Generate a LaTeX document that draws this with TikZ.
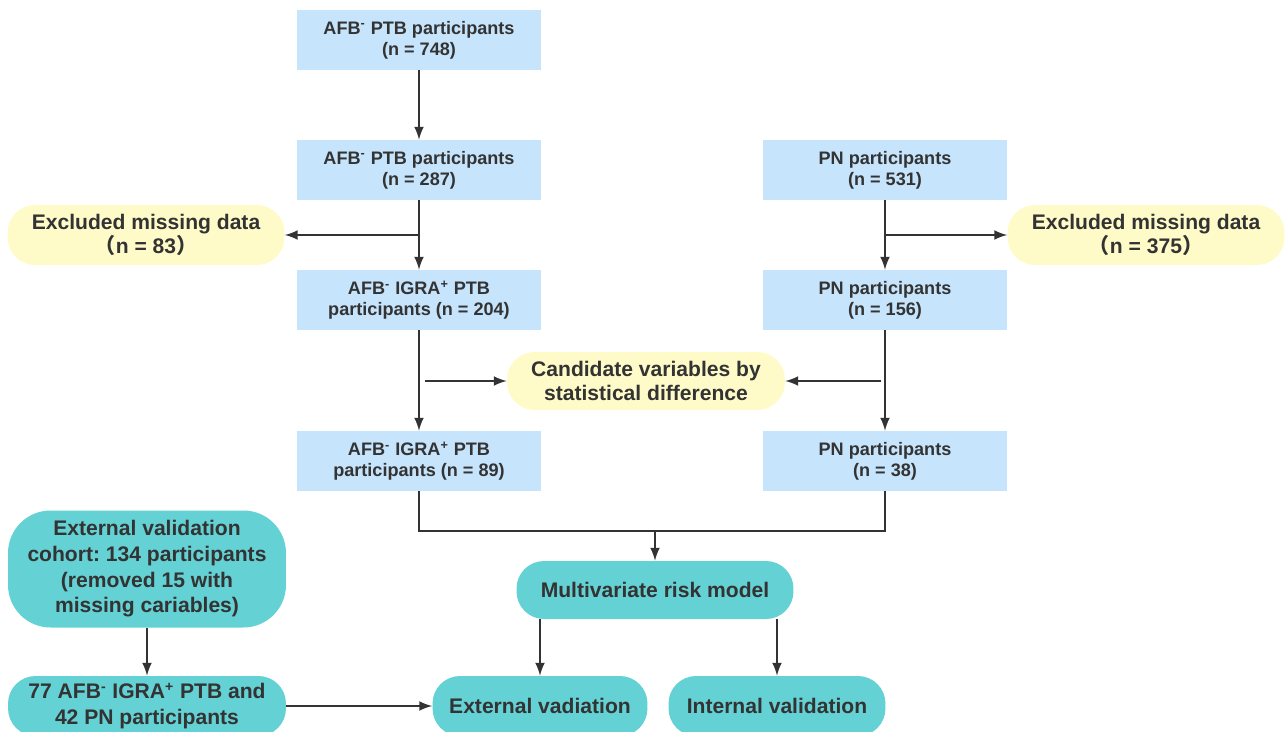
\documentclass[tikz,border=0pt]{standalone}
\usepackage{fontspec}
\setmainfont{Liberation Sans}
\newfontfamily\cjk{Noto Sans CJK SC}
\usepackage{tikz}
\usetikzlibrary{arrows}
\definecolor{boxblue}{HTML}{C6E4FB}
\definecolor{boxyellow}{HTML}{FEFBC9}
\definecolor{boxteal}{HTML}{64D1D4}
\definecolor{ink}{HTML}{333333}
\frenchspacing

\begin{document}
\begin{tikzpicture}[x=0.02cm, y=-0.02cm]
		\tikzstyle{every node} = [align=center, text=ink, inner sep=2pt]
		\tikzstyle{pbox} = [fill=boxblue, minimum width=4.88cm, minimum height=1.2cm, font=\fontsize{10.3}{12}\selectfont\bfseries]
		\tikzstyle{ybox} = [fill=boxyellow, rounded corners=0.55cm, minimum width=5.54cm, minimum height=1.2cm, font=\fontsize{12}{13.6}\selectfont\bfseries]
		\tikzstyle{tbox} = [fill=boxteal, rounded corners=0.55cm, minimum height=1.2cm, font=\fontsize{12}{14.6}\selectfont\bfseries]
		\tikzstyle{link} = [->, >=latex, line width=1.5pt, draw=ink]
		\useasboundingbox (0,0) rectangle (1285,731);
		\clip (0,0) rectangle (1285,731);
		% left column
		\node[pbox] (b1) at (419, 40) {AFB\textsuperscript{-} PTB participants\\(n = 748)};
		\node[pbox] (b2) at (419, 170) {AFB\textsuperscript{-} PTB participants\\(n = 287)};
		\node[pbox] (b3) at (419, 300) {AFB\textsuperscript{-} IGRA\textsuperscript{+} PTB\\participants (n = 204)};
		\node[pbox] (b4) at (419, 461) {AFB\textsuperscript{-} IGRA\textsuperscript{+} PTB\\participants (n = 89)};
		% right column
		\node[pbox] (p1) at (885, 170) {PN participants\\(n = 531)};
		\node[pbox] (p2) at (885, 300) {PN participants\\(n = 156)};
		\node[pbox] (p3) at (885, 461) {PN participants\\(n = 38)};
		% side boxes
		\node[ybox] (ex1) at (146, 235) {Excluded missing data\\{\cjk （}n = 83{\cjk ）}};
		\node[ybox] (ex2) at (1146, 235) {Excluded missing data\\{\cjk （}n = 375{\cjk ）}};
		\node[ybox, minimum height=1.16cm, minimum width=5.56cm] (cand) at (646, 381) {Candidate variables by\\statistical difference};
		% model and validation
		\node[tbox, minimum width=5.54cm, minimum height=1.16cm] (multi) at (655, 590) {Multivariate risk model};
		\node[tbox, minimum width=4.3cm] (extv) at (540, 706) {External vadiation};
		\node[tbox, minimum width=4.34cm] (intv) at (777, 706) {Internal validation};
		\node[tbox, minimum width=5.56cm, minimum height=2.34cm, rounded corners=0.85cm] (extc) at (147, 569) {External validation\\cohort: 134 participants\\(removed 15 with\\missing cariables)};
		\node[tbox, minimum width=5.56cm] (ext2) at (147, 706) {77 AFB\textsuperscript{-} IGRA\textsuperscript{+} PTB and\\42 PN participants};
		% connectors
		\foreach \from/\to in {b1/b2, b2/b3, b3/b4, p1/p2, p2/p3, extc/ext2, ext2/extv}
		\draw [link] (\from) -- (\to);
		\draw [link] (b2 |- ex1) -- (ex1);
		\draw [link] (p1 |- ex2) -- (ex2);
		\draw [link, shorten <=3.5pt] (b3 |- cand) -- (cand);
		\draw [link, shorten <=2pt] (p2 |- cand) -- (cand);
		\coordinate (join) at (655, 531);
		\draw [line width=1.5pt, draw=ink] (b4.south) |- (join) -| (p3.south);
		\draw [link] (join) -- (multi);
		\draw [link] (multi.south -| extv) -- (extv);
		\draw [link] (multi.south -| intv) -- (intv);
	\end{tikzpicture}
\end{document}
